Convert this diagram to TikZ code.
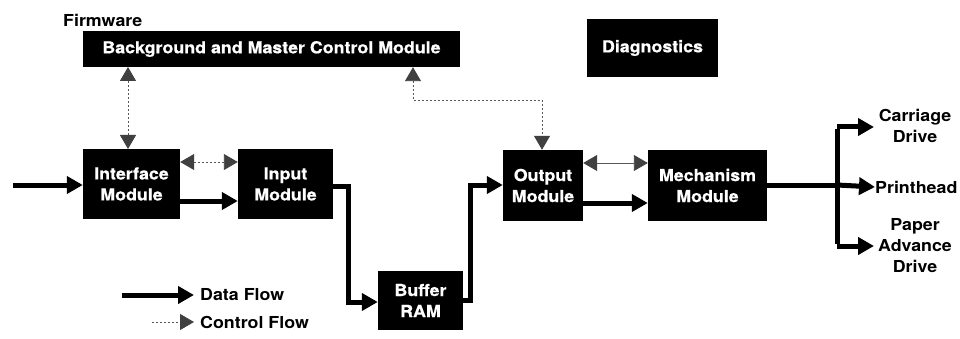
\documentclass[tikz,border=0pt]{standalone}
\usepackage{fontspec}
\setmainfont{TeX Gyre Heros}[FakeStretch=1.08]
\newfontfamily\boxfont{TeX Gyre Heros}[FakeStretch=1.08, BoldFeatures={FakeBold=0.6}]
\usetikzlibrary{arrows.meta}
\tikzset{ctip/.tip={Triangle[length=14pt,width=16pt,fill=black!75,color=black!75]}}
\begin{document}
\begin{tikzpicture}[x=1pt,y=-1pt,
  every node/.style={font=\bfseries\fontsize{16.5}{21}\selectfont, inner sep=0pt},
  blk/.style={fill=black, text=white, align=center, font=\boxfont\bfseries\fontsize{16.5}{21}\selectfont},
  data/.style={line width=5pt, -{Triangle[length=16pt,width=17pt]}},
  dataline/.style={line width=5pt},
  ctrl/.style={draw=black!65, line width=0.9pt, dash pattern=on 2pt off 2pt},
  lbl/.style={align=center}
]
\useasboundingbox (0,0) rectangle (960,339);
% nodes
\node[anchor=west] (fw) at (63,20) {Firmware};
\node[blk, minimum width=377pt, minimum height=36pt] (bg) at (271.5,49) {Background and Master Control Module};
\node[blk, minimum width=131pt, minimum height=58pt] (diag) at (652.5,48) {Diagnostics};
\node[blk, minimum width=97pt, minimum height=70pt] (iface) at (131.5,184) {Interface\\Module};
\node[blk, minimum width=95pt, minimum height=70pt] (inp) at (285.5,184) {Input\\Module};
\node[blk, minimum width=80pt, minimum height=71pt] (out) at (543,185.5) {Output\\Module};
\node[blk, minimum width=119pt, minimum height=71pt] (mech) at (707.5,185.5) {Mechanism\\Module};
\node[blk, minimum width=85pt, minimum height=59pt] (buf) at (420.5,300.5) {Buffer\\RAM};
\node[lbl] (carr) at (915,126) {Carriage\\Drive};
\node[anchor=west] (ph) at (875,187) {Printhead};
\node[lbl] (pap) at (915,246) {Paper\\Advance\\Drive};
% data flows
\coordinate (in0) at (13,185);
\draw[data] (in0) -- (iface.west |- in0);
\draw[data] (iface.east |- 0,201) -- (inp.west |- 0,201);
\draw[data] (inp.east |- 0,186) -| (348,302) -- (buf.west |- 0,302);
\draw[data] (buf.east |- 0,300) -| (470,185) -- (out.west |- 0,185);
\draw[data] (out.east |- 0,203) -- (mech.west |- 0,203);
\coordinate (fk) at (837,185);
\coordinate (ft) at (837,127);
\coordinate (fb) at (837,246);
\draw[dataline] (mech.east |- fk) -- (fk);
\draw[dataline] ([yshift=-2.5pt]ft) -- ([yshift=2.5pt]fb);
\draw[data] (ft) -- (874,127);
\draw[data] (fk) -- (ph.west);
\draw[data] (fb) -- (874,246);
% control flows
\draw[ctrl, ctip-ctip] (128,67) -- (128,149);
\draw[ctrl, ctip-ctip] (iface.east |- 0,162) -- (inp.west |- 0,162);
\draw[ctrl, solid, ctip-ctip] (out.east |- 0,163) -- (mech.west |- 0,163);
\draw[ctrl, ctip-ctip] (bg.south -| 413,0) |- (542,100) -- (out.north -| 542,0);
% legend
\coordinate (l1a) at (122,295);
\coordinate (l1b) at (194,295);
\draw[data] (l1a) -- (l1b);
\node[anchor=west] (ldf) at (200,295) {Data Flow};
\coordinate (l2a) at (152,322);
\coordinate (l2b) at (194,322);
\draw[ctrl, -ctip] (l2a) -- (l2b);
\node[anchor=west] (lcf) at (200,322) {Control Flow};
\end{tikzpicture}
\end{document}
